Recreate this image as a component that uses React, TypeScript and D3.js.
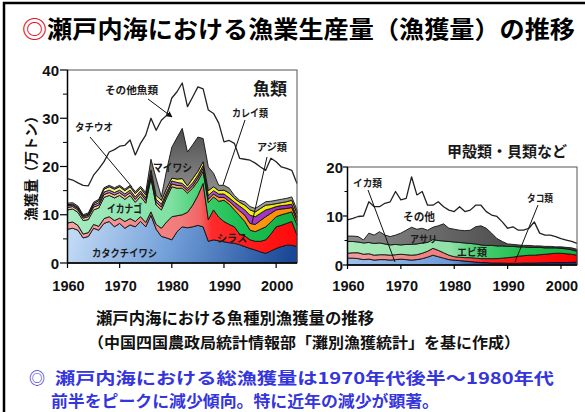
import React from "react";
import * as d3 from "d3";

// ---------- 魚類 (left chart), 万トン ----------
const fishYears = [1960,1961,1962,1963,1964,1965,1966,1967,1968,1969,1970,1971,1972,1973,1974,1975,1976,1977,1978,1979,1980,1981,1982,1983,1984,1985,1986,1987,1988,1989,1990,1991,1992,1993,1994,1995,1996,1997,1998,1999,2000,2001,2002,2003,2004];
const anchovy = [7.0,7.2,6.8,5.2,5.5,7.2,6.8,8.2,8.6,7.5, 8.2,7.2,7.9,7.5,8.6,7.5,9.9,7.0,5.5,5.2, 4.8,6.5,7.5,7.3,7.5,7.8,7.5,4.5,4.8,4.6, 4.4,4.2,4.1,3.8,3.4,3.0,2.7,2.3,2.0,2.5, 3.0,3.4,3.7,3.7,3.4];
const whitebait = [1.3,1.3,1.0,0.8,0.8,0.8,0.8,1.0,1.0,1.3, 1.1,1.4,1.3,1.1,1.0,0.9,0.7,1.0,1.7,3.3, 4.8,3.3,2.5,3.2,4.5,6.2,9.0,4.5,6.2,4.9, 4.2,3.8,3.4,2.2,2.2,1.8,1.8,2.2,2.8,3.5, 4.5,4.4,4.5,4.9,2.4];
const sandLance = [2.7,2.7,2.7,2.8,2.7,3.0,3.8,4.4,4.4,4.7, 4.7,4.6,4.8,4.0,4.2,4.0,6.9,4.0,3.8,5.0, 6.2,5.7,5.5,4.0,3.5,3.0,2.5,3.5,2.7,3.3, 4.4,4.2,3.5,3.8,3.0,2.0,2.0,2.5,2.7,2.5, 2.1,2.2,2.1,2.0,2.1];
const horseMackerel = [0.5,0.5,0.5,0.5,0.6,0.6,0.6,0.6,0.6,0.6, 0.6,0.6,0.6,0.6,0.6,0.6,0.5,0.6,0.6,0.6, 0.6,0.6,0.5,0.5,0.5,0.6,0.6,0.7,0.6,0.8, 0.6,0.6,0.8,1.0,1.3,1.4,1.5,1.8,2.1,1.8, 1.4,1.2,1.0,0.9,0.9];
const flatfish = [0.4,0.3,0.3,0.3,0.3,0.4,0.5,0.5,0.5,0.5, 0.5,0.5,0.5,0.5,0.5,0.5,0.5,0.6,0.6,0.6, 0.6,0.6,0.5,0.5,0.6,0.6,0.6,0.8,0.7,0.7, 0.7,0.7,0.8,1.0,1.1,1.7,1.6,1.5,1.4,1.0, 0.7,0.7,0.7,0.7,0.7];
const cutlassfish = [0.2,0.2,0.2,0.2,0.2,0.3,0.4,0.6,0.7,0.7, 0.7,0.7,0.7,0.7,0.6,0.6,0.8,0.8,0.8,0.8, 0.6,0.7,1.0,0.5,0.9,0.8,0.8,1.0,0.8,0.7, 0.8,1.0,0.8,0.8,1.0,1.1,1.0,1.0,1.0,0.8, 0.6,0.6,0.7,0.8,0.8];
const sardine = [0.3,0.3,0.3,0.2,0.3,0.3,0.3,0.3,0.3,0.3, 0.3,0.3,0.3,0.4,0.4,0.5,2.2,3.5,0.7,3.7, 6.4,8.6,10.4,7.0,7.0,7.1,4.8,4.9,2.8,1.1, 1.0,1.0,0.6,0.4,0.7,0.7,0.7,0.7,0.7,0.7, 0.7,0.7,0.7,0.7,0.7];
const fishTotal = [17.5,17.2,16.6,16.1,16.0,18.2,19.5,21.0,23.0,23.5, 24.2,24.4,25.5,22.4,24.8,26.5,30.0,27.5,29.6,30.6, 34.2,35.5,37.3,32.4,34.4,36.5,36.1,31.7,31.0,29.0, 25.1,25.4,24.8,21.7,21.5,21.3,20.7,19.9,19.2,21.7, 21.0,19.9,19.6,19.2,16.5];

// ---------- 甲殻類・貝類など (right chart), 万トン ----------
const shellYears = [1960,1961,1962,1963,1964,1965,1966,1967,1968,1969,1970,1971,1972,1973,1974,1975,1976,1977,1978,1979,1980,1981,1982,1983,1984,1985,1986,1987,1988,1989,1990,1991,1992,1993,1994,1995,1996,1997,1998,1999,2000,2001,2002,2003];
const squid = [1.4,1.4,1.3,1.1,1.2,1.0,1.1,1.1,1.0,1.1, 1.2,1.1,1.0,1.1,1.3,1.6,2.0,1.7,1.4,1.1, 1.0,0.9,0.8,0.7,0.6,0.5,0.5,0.4,0.4,0.4, 0.35,0.35,0.35,0.4,0.4,0.4,0.45,0.45,0.5,0.5, 0.5,0.5,0.55,0.6];
const octopus = [1.0,1.1,1.2,1.1,1.1,1.0,1.0,1.0,1.0,1.0, 1.0,1.0,1.0,1.0,1.1,1.2,1.4,1.3,1.1,0.9, 0.7,0.7,0.7,0.8,0.8,0.8,0.8,0.9,0.9,1.0, 1.15,1.25,1.45,1.5,1.6,1.6,1.65,1.75,1.8,1.9, 1.9,1.8,1.65,1.4];
const shrimp = [2.4,2.3,2.2,2.3,2.3,2.4,2.4,2.2,2.1,2.1, 1.9,2.1,2.2,2.2,2.1,1.8,1.8,2.0,2.4,2.8, 3.0,3.0,3.0,2.9,2.9,2.8,2.7,2.7,2.6,2.5, 2.3,2.2,1.9,1.8,1.6,1.6,1.5,1.3,1.2,1.1, 1.0,1.0,0.9,0.8];
const clam = [1.1,1.1,1.1,0.6,1.9,1.7,2.3,1.8,1.7,1.9, 2.4,2.9,3.5,3.0,3.0,2.5,2.5,3.0,3.5,2.7, 2.6,2.5,2.5,2.7,3.5,3.9,3.5,2.5,1.5,0.9, 0.5,0.4,0.4,0.3,0.4,0.3,0.3,0.3,0.3,0.2, 0.3,0.3,0.4,0.4];
const shellTotal = [9.2,9.5,9.9,10.0,12.9,11.9,11.9,12.6,12.9,15.0, 13.3,13.6,18.0,14.3,15.0,12.2,12.2,12.9,11.9,11.2, 10.9,11.9,10.9,11.2,12.2,12.2,10.9,10.2,9.9,8.8, 7.5,7.8,7.1,7.1,7.5,8.8,6.5,6.1,6.1,5.8, 5.4,5.1,4.8,4.4];

const yearTicks = [1960, 1970, 1980, 1990, 2000];
const leftTicks = [0, 10, 20, 30, 40];
const leftMinor = [5, 15, 25, 35];
const rightTicks = [0, 10, 20];
const rightMinor = [5, 15];

const fishKeys = ["anchovy", "whitebait", "sandLance", "horseMackerel", "flatfish", "cutlassfish", "sardine"];
const fishFills = ["url(#lBlue)", "url(#lPink)", "url(#lGreen)", "url(#lOrange)", "url(#lPurple)", "url(#lYellow)", "url(#lGray)"];
const shellKeys = ["squid", "octopus", "shrimp", "clam"];
const shellFills = ["url(#rBlue)", "url(#rPink)", "url(#rGreen)", "url(#rGray)"];

const JP = "'Noto Sans CJK JP', 'Noto Sans', sans-serif";
const NUM = "'Liberation Sans', Arial, sans-serif";

export default function App() {
  const lx = d3.scaleLinear().domain([1960, 2004]).range([67.5, 297]);
  const ly = d3.scaleLinear().domain([0, 40]).range([263, 70]);
  const rx = d3.scaleLinear().domain([1960, 2003]).range([347.5, 577]);
  const ry = d3.scaleLinear().domain([0, 20]).range([265, 167]);

  const fishRows = fishYears.map((year, i) => ({
    year,
    anchovy: anchovy[i],
    whitebait: whitebait[i],
    sandLance: sandLance[i],
    horseMackerel: horseMackerel[i],
    flatfish: flatfish[i],
    cutlassfish: cutlassfish[i],
    sardine: sardine[i],
  }));
  const shellRows = shellYears.map((year, i) => ({
    year,
    squid: squid[i],
    octopus: octopus[i],
    shrimp: shrimp[i],
    clam: clam[i],
  }));

  const fishStack = d3.stack<any>().keys(fishKeys)(fishRows);
  const shellStack = d3.stack<any>().keys(shellKeys)(shellRows);

  const lArea = d3.area<any>().x((d) => lx(d.data.year)).y0((d) => ly(d[0])).y1((d) => ly(d[1]));
  const rArea = d3.area<any>().x((d) => rx(d.data.year)).y0((d) => ry(d[0])).y1((d) => ry(d[1]));
  const lLine = d3.line<number>().x((_, i) => lx(fishYears[i])).y((d) => ly(d));
  const rLine = d3.line<number>().x((_, i) => rx(shellYears[i])).y((d) => ry(d));

  const lbl = (x: number, y: number, t: string, w: number, fs = 10.5) => (
    <text x={x} y={y} fontSize={fs} fontWeight="bold" fontFamily={JP} fill="#1a1a1a" dominantBaseline="central" textLength={w} lengthAdjust="spacingAndGlyphs">{t}</text>
  );

  const hg = (id: string, x1: number, x2: number, stops: [number, string][]) => (
    <linearGradient id={id} gradientUnits="userSpaceOnUse" x1={x1} y1={0} x2={x2} y2={0}>
      {stops.map(([o, c], i) => <stop key={i} offset={o} stopColor={c} />)}
    </linearGradient>
  );

  return (
    <svg width={585} height={412} style={{ position: "fixed", left: 0, top: 0, background: "#fff" }}>
      <defs>
        <linearGradient id="lBlue" gradientUnits="userSpaceOnUse" x1={80} y1={212} x2={285} y2={275}>
          <stop offset={0} stopColor="#c0d8f4" />
          <stop offset={0.45} stopColor="#729fd8" />
          <stop offset={1} stopColor="#1a4896" />
        </linearGradient>
        {hg("lPink", 67.5, 297, [[0, "#f4a4a4"], [0.5, "#f27a7a"], [0.58, "#f26464"], [0.63, "#ff2a2a"], [1, "#ff0a0a"]])}
        {hg("lGreen", 67.5, 297, [[0, "#a8ecc4"], [0.45, "#80e0a2"], [0.6, "#3ccc6c"], [0.75, "#1cbf52"], [1, "#12b042"]])}
        {hg("lOrange", 67.5, 297, [[0, "#f6d2a4"], [0.5, "#f4b466"], [0.7, "#ff9c1c"], [1, "#ff8c00"]])}
        {hg("lPurple", 67.5, 297, [[0, "#cca0dc"], [0.5, "#b264d2"], [1, "#9a22c2"]])}
        {hg("lYellow", 67.5, 297, [[0, "#f6f6a6"], [0.5, "#f2f266"], [0.7, "#f0f010"], [1, "#eeee00"]])}
        <linearGradient id="lGray" gradientUnits="userSpaceOnUse" x1={0} y1={110} x2={0} y2={205}>
          <stop offset={0} stopColor="#3a3a3a" />
          <stop offset={1} stopColor="#9c9c9c" />
        </linearGradient>
        {hg("rBlue", 347.5, 577, [[0, "#9cc2ec"], [0.45, "#6e9ad6"], [0.6, "#1c408e"], [1, "#0f2f7a"]])}
        {hg("rPink", 347.5, 577, [[0, "#f29c9c"], [0.45, "#f07a7a"], [0.6, "#ff2222"], [1, "#ff0000"]])}
        {hg("rGreen", 347.5, 577, [[0, "#aaeaba"], [0.45, "#90e0a8"], [0.55, "#52d07a"], [0.75, "#22c052"], [1, "#1ab048"]])}
        {hg("rGray", 347.5, 577, [[0, "#8c8c8c"], [0.4, "#686868"], [0.6, "#565656"], [1, "#3c3c3c"]])}
        <marker id="arr" viewBox="0 0 10 10" refX={9} refY={5} markerWidth={6} markerHeight={6} orient="auto">
          <path d="M0,0 L10,5 L0,10 z" fill="#111" />
        </marker>
      </defs>

      {/* outer frame */}
      <rect x={4} y={3} width={600} height={430} fill="none" stroke="#000" strokeWidth={2.5} />

      {/* title */}
      <text x={22} y={27} fontSize={24} fontWeight="bold" fontFamily={JP} dominantBaseline="central" textLength={553} lengthAdjust="spacingAndGlyphs">
        <tspan fill="#e8141e">◎</tspan>
        <tspan fill="#000">瀬戸内海における漁業生産量（漁獲量）の推移</tspan>
      </text>

      {/* ===== left chart ===== */}
      {fishStack.map((s, i) => (
        <path key={s.key} d={lArea(s) || ""} fill={fishFills[i]} stroke="#111" strokeWidth={0.9} strokeLinejoin="round" />
      ))}
      <path d={lLine(fishTotal) || ""} fill="none" stroke="#222" strokeWidth={1.3} strokeLinejoin="round" />
      <rect x={67.5} y={70} width={297 - 67.5} height={263 - 70} fill="none" stroke="#555" strokeWidth={1} />
      <line x1={67.5} y1={ly(0)} x2={67.5} y2={ly(40)} stroke="#000" strokeWidth={1.5} />
      <line x1={67.5} y1={263} x2={297} y2={263} stroke="#000" strokeWidth={1.5} />
      {leftTicks.map((t) => (
        <g key={t}>
          <line x1={60} x2={67.5} y1={ly(t)} y2={ly(t)} stroke="#000" strokeWidth={1.2} />
          <text x={59} y={ly(t)} textAnchor="end" dominantBaseline="central" fontSize={15} fontWeight="bold" fontFamily={NUM} fill="#111">{t}</text>
        </g>
      ))}
      {leftMinor.map((t) => (
        <line key={t} x1={63} x2={67.5} y1={ly(t)} y2={ly(t)} stroke="#000" strokeWidth={1} />
      ))}
      {yearTicks.map((t) => (
        <g key={t}>
          <line x1={lx(t)} x2={lx(t)} y1={263} y2={268} stroke="#000" strokeWidth={1.2} />
          <text x={lx(t) + 1} y={286} textAnchor="middle" dominantBaseline="central" fontSize={14.5} fontWeight="bold" fontFamily={NUM} fill="#111">{t}</text>
        </g>
      ))}
      <text transform="translate(30,165) rotate(-90)" textAnchor="middle" dominantBaseline="central" fontSize={14} fontWeight="bold" fontFamily={JP} fill="#111">漁獲量（万トン）</text>

      {/* left labels */}
      {lbl(253, 87, "魚類", 34, 17)}
      {lbl(105, 89, "その他魚類", 53)}
      {lbl(75, 126, "タチウオ", 38)}
      {lbl(232, 112, "カレイ類", 36)}
      {lbl(257, 146, "アジ類", 30)}
      {lbl(153, 167, "マイワシ", 39, 11)}
      {lbl(107, 208, "イカナゴ", 35, 11)}
      {lbl(217, 237, "シラス", 30)}
      {lbl(92, 252, "カタクチイワシ", 65)}
      <line x1={148} y1={99} x2={172} y2={117} stroke="#111" strokeWidth={1} markerEnd="url(#arr)" />
      <line x1={90} y1={137} x2={132} y2={187} stroke="#111" strokeWidth={1} />
      <line x1={245} y1={120} x2={223} y2={185} stroke="#111" strokeWidth={1} />
      <line x1={267} y1={157} x2={252} y2={223} stroke="#111" strokeWidth={1} />

      {/* ===== right chart ===== */}
      {shellStack.map((s, i) => (
        <path key={s.key} d={rArea(s) || ""} fill={shellFills[i]} stroke="#111" strokeWidth={0.9} strokeLinejoin="round" />
      ))}
      <path d={rLine(shellTotal) || ""} fill="none" stroke="#222" strokeWidth={1.3} strokeLinejoin="round" />
      <rect x={347.5} y={167} width={577 - 347.5} height={265 - 167} fill="none" stroke="#555" strokeWidth={1} />
      <line x1={347.5} y1={265} x2={347.5} y2={167} stroke="#000" strokeWidth={1.5} />
      <line x1={347.5} y1={265} x2={577} y2={265} stroke="#000" strokeWidth={1.5} />
      {rightTicks.map((t) => (
        <g key={t}>
          <line x1={343} x2={347.5} y1={ry(t)} y2={ry(t)} stroke="#000" strokeWidth={1.2} />
          <text x={343} y={ry(t)} textAnchor="end" dominantBaseline="central" fontSize={15} fontWeight="bold" fontFamily={NUM} fill="#111">{t}</text>
        </g>
      ))}
      {rightMinor.map((t) => (
        <line key={t} x1={344.5} x2={347.5} y1={ry(t)} y2={ry(t)} stroke="#000" strokeWidth={1} />
      ))}
      {yearTicks.map((t) => (
        <g key={t}>
          <line x1={rx(t)} x2={rx(t)} y1={265} y2={269} stroke="#000" strokeWidth={1.2} />
          <text x={rx(t) + 1} y={286} textAnchor="middle" dominantBaseline="central" fontSize={14.5} fontWeight="bold" fontFamily={NUM} fill="#111">{t}</text>
        </g>
      ))}

      {/* right labels */}
      {lbl(447, 150, "甲殻類・貝類など", 120, 15)}
      {lbl(353, 182, "イカ類", 29, 10)}
      {lbl(403, 216, "その他", 32, 11)}
      {lbl(410, 238, "アサリ", 27, 10)}
      {lbl(457, 251, "エビ類", 30, 10.5)}
      {lbl(527, 197, "タコ類", 26, 10)}
      <line x1={368} y1={190} x2={395} y2={262} stroke="#111" strokeWidth={1} />
      <line x1={538} y1={205} x2={515} y2={262} stroke="#111" strokeWidth={1} />

      {/* captions */}
      <text x={96} y={317} fontSize={16} fontWeight="bold" fontFamily={JP} fill="#111" dominantBaseline="central" textLength={278} lengthAdjust="spacingAndGlyphs">瀬戸内海における魚種別漁獲量の推移</text>
      <text x={88} y={341} fontSize={15} fontWeight="bold" fontFamily={JP} fill="#111" dominantBaseline="central" textLength={432} lengthAdjust="spacingAndGlyphs">（中国四国農政局統計情報部「灘別漁獲統計」を基に作成）</text>

      <text x={29} y={377} fontSize={16} fontWeight="bold" fontFamily={JP} fill="#3535dd" dominantBaseline="central">◎</text>
      <text x={55} y={377} fontSize={16} fontWeight="bold" fontFamily={JP} fill="#3535dd" dominantBaseline="central" textLength={499} lengthAdjust="spacingAndGlyphs">瀬戸内海における総漁獲量は1970年代後半～1980年代</text>
      <text x={51} y={400} fontSize={16} fontWeight="bold" fontFamily={JP} fill="#3535dd" dominantBaseline="central" textLength={388} lengthAdjust="spacingAndGlyphs">前半をピークに減少傾向。特に近年の減少が顕著。</text>
    </svg>
  );
}
